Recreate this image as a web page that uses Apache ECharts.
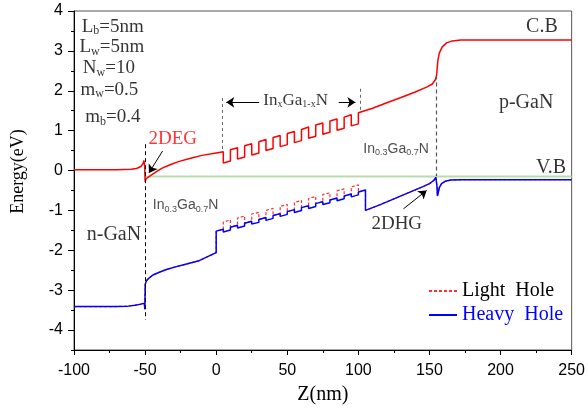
<!DOCTYPE html>
<html>
<head>
<meta charset="utf-8">
<script src="https://cdn.jsdelivr.net/npm/echarts@6/dist/echarts.min.js"></script>
<style>
html, body { margin: 0; background: #fff; }
#main { width: 588px; height: 410px; }
</style>
</head>
<body>
<div id="main"></div>
<script>
// band edges, [Z(nm), E(eV)]
const cbLeft = [
  [-100, 0.02], [-70, 0.02], [-60, 0.03], [-56, 0.05], [-53, 0.1], [-51.5, 0.17], [-50.8, 0.25],
  [-50.3, 0.12], [-50, -0.28], [-49.5, -0.22], [-48, -0.17], [-46, -0.12], [-42, -0.03], [-38, 0.06],
  [-32, 0.15], [-26, 0.23], [-18, 0.31], [-10, 0.38], [0, 0.44], [5, 0.47]
]
const cbWells = [
  [5, 0.19], [10, 0.24], [10, 0.52], [15, 0.57], [15, 0.29], [20, 0.34], [20, 0.62], [25, 0.67],
  [25, 0.39], [30, 0.44], [30, 0.72], [35, 0.78], [35, 0.50], [40, 0.55], [40, 0.83], [45, 0.88],
  [45, 0.60], [50, 0.65], [50, 0.93], [55, 0.98], [55, 0.70], [60, 0.75], [60, 1.03], [65, 1.09],
  [65, 0.81], [70, 0.86], [70, 1.14], [75, 1.19], [75, 0.91], [80, 0.96], [80, 1.24], [85, 1.29],
  [85, 1.01], [90, 1.06], [90, 1.34], [95, 1.40], [95, 1.12], [100, 1.17], [100, 1.45]
]
const cbRight = [
  [110, 1.56], [120, 1.70], [130, 1.83], [140, 1.97], [148, 2.09], [152, 2.17], [154, 2.27],
  [155, 2.38], [155.5, 2.6], [156, 2.78], [157, 2.95], [159, 3.1], [162, 3.2], [166, 3.25],
  [172, 3.27], [250, 3.27]
]

const hhLeft = [
  [-100, -3.41], [-70, -3.41], [-62, -3.40], [-57, -3.38], [-53, -3.35], [-50.5, -3.33], [-50.2, -3.48],
  [-50, -3.45], [-49.9, -2.85], [-49, -2.76], [-47, -2.69], [-44.5, -2.62], [-40, -2.55], [-35, -2.48],
  [-28, -2.41], [-23.5, -2.37], [-12, -2.26], [0, -2.06]
]
const hhWells = [
  [0, -1.52], [5, -1.47], [5, -1.54], [10, -1.49], [10, -1.42], [15, -1.37], [15, -1.44], [20, -1.39],
  [20, -1.32], [25, -1.27], [25, -1.34], [30, -1.30], [30, -1.23], [35, -1.18], [35, -1.25], [40, -1.20],
  [40, -1.13], [45, -1.08], [45, -1.15], [50, -1.10], [50, -1.03], [55, -0.98], [55, -1.05], [60, -1.00],
  [60, -0.93], [65, -0.88], [65, -0.95], [70, -0.90], [70, -0.83], [75, -0.78], [75, -0.85], [80, -0.81],
  [80, -0.74], [85, -0.69], [85, -0.76], [90, -0.71], [90, -0.64], [95, -0.59], [95, -0.66], [100, -0.61],
  [100, -0.54], [105, -0.49]
]
const lhWells = [
  [0, -1.52], [5, -1.47], [5, -1.29], [10, -1.24], [10, -1.42], [15, -1.37], [15, -1.19], [20, -1.14],
  [20, -1.32], [25, -1.27], [25, -1.09], [30, -1.05], [30, -1.23], [35, -1.18], [35, -1.00], [40, -0.95],
  [40, -1.13], [45, -1.08], [45, -0.90], [50, -0.85], [50, -1.03], [55, -0.98], [55, -0.80], [60, -0.75],
  [60, -0.93], [65, -0.88], [65, -0.70], [70, -0.65], [70, -0.83], [75, -0.78], [75, -0.60], [80, -0.56],
  [80, -0.74], [85, -0.69], [85, -0.51], [90, -0.46], [90, -0.64], [95, -0.59], [95, -0.41], [100, -0.36],
  [100, -0.54], [105, -0.49]
]
const hhRight = [
  [105, -1.0], [115, -0.86], [125, -0.71], [135, -0.56], [145, -0.41], [150, -0.33], [153, -0.25],
  [154.5, -0.17], [155, -0.12], [155.3, -0.4], [155.6, -0.64], [156.2, -0.55], [157, -0.42],
  [158.5, -0.33], [161, -0.27], [165, -0.24], [172, -0.23], [250, -0.23]
]
const vbLevel = [[-50, -0.15], [250, -0.15]]

const yTicks = [-4, -3, -2, -1, 0, 1, 2, 3, 4]
const yMinor = [-4.5, -3.5, -2.5, -1.5, -0.5, 0.5, 1.5, 2.5, 3.5]

const serif = "'Liberation Serif', 'Times New Roman', serif"
const sans = "'Liberation Sans', Arial, sans-serif"

const subSerif = { s: { fontFamily: serif, fontSize: 12, padding: [9, 0, 0, 0], color: '#000' } }
const subSans = { t: { fontFamily: sans, fontSize: 9, padding: [8, 0, 0, 0], color: '#222' } }

function note(x, y, text, color, size, font, rich) {
    return {
        value: [x, y],
        label: { formatter: text, color: color, fontSize: size, fontFamily: font, rich: rich }
    }
}

const notes = [
    note(-72.7, 3.61, 'L{s|b}=5nm', '#000', 19, serif, subSerif),
    note(-73.4, 3.10, 'L{s|w}=5nm', '#000', 19, serif, subSerif),
    note(-75.5, 2.56, 'N{s|w}=10', '#000', 19, serif, subSerif),
    note(-75.1, 2.03, 'm{s|w}=0.5', '#000', 19, serif, subSerif),
    note(-72.7, 1.34, 'm{s|b}=0.4', '#000', 19, serif, subSerif),
    note(-30.5, 0.79, '2DEG', '#ff0000', 19, serif),
    note(127, -1.35, '2DHG', '#000', 19, serif),
    note(-71.9, -1.62, 'n-GaN', '#000', 20, serif),
    note(218, 1.70, 'p-GaN', '#000', 20, serif),
    note(229.1, 3.60, 'C.B', '#000', 20, serif),
    note(235.5, 0.07, 'V.B', '#000', 20, serif),
    note(55.9, 1.75, 'In{s|x}Ga{s|1-x}N', '#000', 17, serif, { s: { fontFamily: serif, fontSize: 10, padding: [8, 0, 0, 0], color: '#000' } }),
    note(-21.5, -0.88, 'In{t|0.3}Ga{t|0.7}N', '#222', 14, sans, subSans),
    note(126.5, 0.54, 'In{t|0.3}Ga{t|0.7}N', '#222', 14, sans, subSans)
]

const chart = echarts.init(document.getElementById('main'))

const option = {
    animation: false,
    grid: { left: 74, right: 14, top: 11, bottom: 57, show: true, borderColor: '#555', borderWidth: 1 },
    legend: {
        orient: 'vertical',
        left: 423,
        top: 276,
        itemGap: 4,
        itemWidth: 28,
        itemHeight: 12,
        itemStyle: { opacity: 0 },
        textStyle: { fontFamily: serif, fontSize: 20 },
        data: [
            { name: 'Light  Hole', textStyle: { color: '#000' } },
            { name: 'Heavy  Hole', textStyle: { color: '#0000ff' } }
        ]
    },
    xAxis: {
        type: 'value',
        min: -100,
        max: 250,
        interval: 50,
        name: 'Z(nm)',
        nameLocation: 'middle',
        nameGap: 35,
        nameTextStyle: { fontFamily: serif, fontSize: 20, color: '#000' },
        axisLine: { onZero: false, lineStyle: { color: '#000', width: 1 } },
        axisTick: { length: 5, lineStyle: { color: '#000' } },
        minorTick: { show: true, splitNumber: 2, length: 3, lineStyle: { color: '#000' } },
        axisLabel: { fontFamily: sans, fontSize: 16, color: '#000', margin: 13 },
        splitLine: { show: false }
    },
    yAxis: [
        {
            type: 'value',
            min: -4.5,
            max: 4,
            name: 'Energy(eV)',
            nameLocation: 'middle',
            nameGap: 47,
            nameTextStyle: { fontFamily: serif, fontSize: 18, color: '#000', padding: [0, 0, 0, 18] },
            axisLine: { show: true, onZero: false, lineStyle: { color: '#000', width: 1 } },
            axisTick: { show: true, length: 6, customValues: yTicks, lineStyle: { color: '#000' } },
            axisLabel: { customValues: yTicks, fontFamily: sans, fontSize: 16, color: '#000', margin: 11 },
            splitLine: { show: false }
        },
        {
            type: 'value',
            min: -4.5,
            max: 4,
            position: 'left',
            axisLine: { show: false, onZero: false },
            axisTick: { show: true, length: 3, customValues: yMinor, lineStyle: { color: '#000' } },
            axisLabel: { show: false },
            splitLine: { show: false }
        }
    ],
    series: [
        {
            name: 'V.B level',
            type: 'line',
            data: vbLevel,
            symbol: 'none',
            silent: true,
            lineStyle: { color: '#b9dbb0', width: 2 },
            markLine: {
                silent: true,
                symbol: 'none',
                label: { show: false },
                data: [
                    [{ coord: [-50, 0.66], lineStyle: { color: '#000', type: [4, 3], width: 1 } }, { coord: [-50, -3.74] }],
                    [{ coord: [4, 1.82], lineStyle: { color: '#666', type: [3, 3], width: 1 } }, { coord: [4, 0.49] }],
                    [{ coord: [101, 2.05], lineStyle: { color: '#666', type: [3, 3], width: 1 } }, { coord: [101, 1.46] }],
                    [{ coord: [155, 2.38], lineStyle: { color: '#555', type: [4, 3], width: 1.2 } }, { coord: [155, -0.14] }]
                ]
            }
        },
        {
            name: 'Light  Hole',
            type: 'line',
            data: hhLeft.concat(lhWells, hhRight),
            symbol: 'none',
            silent: true,
            color: '#ff3030',
            lineStyle: { color: '#ff3030', width: 1.2, type: [3, 2] }
        },
        {
            name: 'Heavy  Hole',
            type: 'line',
            data: hhLeft.concat(hhWells, hhRight),
            symbol: 'none',
            silent: true,
            color: '#0000ff',
            lineStyle: { color: '#0000ff', width: 1.5 }
        },
        {
            name: 'C.B',
            type: 'line',
            data: cbLeft.concat(cbWells, cbRight),
            symbol: 'none',
            silent: true,
            lineStyle: { color: '#ff0000', width: 1.5 },
            markLine: {
                silent: true,
                symbol: ['none', 'arrow'],
                symbolSize: 8,
                label: { show: false },
                lineStyle: { color: '#000', type: 'solid', width: 1 },
                data: [
                    [{ coord: [-37.7, 0.49] }, { coord: [-47.3, -0.06] }],
                    [{ coord: [131.7, -0.96] }, { coord: [148.0, -0.50] }],
                    [{ coord: [30.2, 1.71] }, { coord: [7.1, 1.71] }],
                    [{ coord: [86.2, 1.71] }, { coord: [97.9, 1.71] }]
                ]
            }
        },
        {
            name: 'notes',
            type: 'scatter',
            data: notes,
            symbolSize: 0,
            silent: true,
            label: { show: true, position: 'inside' }
        }
    ]
}

chart.setOption(option)
</script>
</body>
</html>
